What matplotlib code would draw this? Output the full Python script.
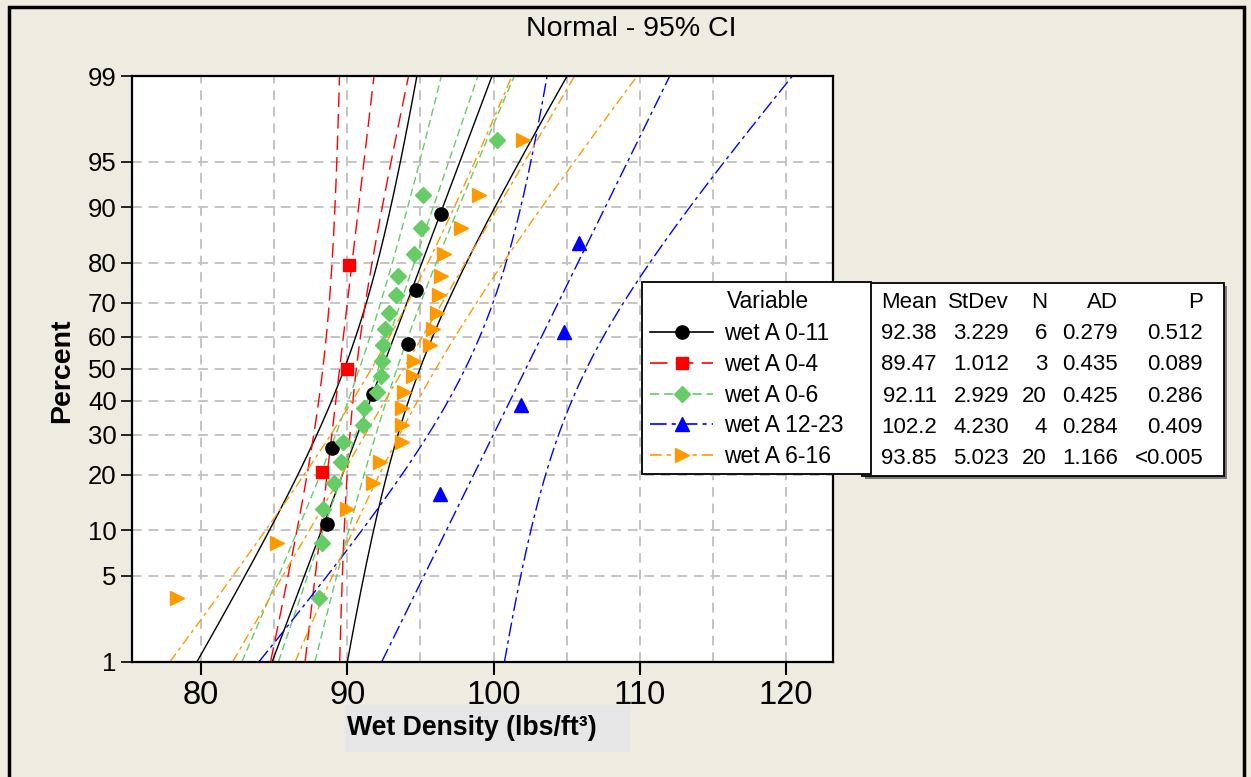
import numpy as np
import matplotlib.pyplot as plt
from matplotlib.lines import Line2D
from matplotlib.patches import Rectangle
from matplotlib.ticker import FixedLocator, NullLocator
from statistics import NormalDist

plt.rcParams['font.family'] = ['Liberation Sans', 'DejaVu Sans']

# Wet density samples (lbs/ft^3) per variable, sorted
labels = ['wet A 0-11', 'wet A 0-4', 'wet A 0-6', 'wet A 12-23', 'wet A 6-16']
wet_0_11 = [88.59, 88.93, 91.74, 94.13, 94.70, 96.39]
wet_0_4 = [88.30, 89.99, 90.12]
wet_0_6 = [88.07, 88.29, 88.36, 89.09, 89.55, 89.68, 91.10, 91.16, 92.05, 92.28,
           92.35, 92.46, 92.58, 92.87, 93.33, 93.49, 94.58, 95.04, 95.15, 100.2]
wet_12_23 = [96.34, 101.87, 104.78, 105.86]
wet_6_16 = [78.34, 85.17, 90.00, 91.76, 92.24, 93.72, 93.72, 93.76, 93.90, 94.50,
            94.58, 95.68, 95.86, 96.13, 96.25, 96.39, 96.58, 97.80, 98.98, 102.0]

# summary statistics table
means = [92.38, 89.47, 92.11, 102.2, 93.85]
stdevs = [3.229, 1.012, 2.929, 4.230, 5.023]
ns = [6, 3, 20, 4, 20]
ads = [0.279, 0.435, 0.425, 0.284, 1.166]
pvals = ['0.512', '0.089', '0.286', '0.409', '<0.005']

pct_ticks = [1, 5, 10, 20, 30, 40, 50, 60, 70, 80, 90, 95, 99]
x_ticks = [80, 90, 100, 110, 120]

samples = [wet_0_11, wet_0_4, wet_0_6, wet_12_23, wet_6_16]
colors = ['black', '#FF0000', '#66CC66', '#0000FF', '#FF9900']
styles = ['-', (0, (10.5, 5)), (0, (5.5, 3)), (0, (10, 3, 2.5, 3)), (0, (7, 3, 2.5, 3))]
markers = ['o', 's', 'D', '^', '>']
msizes = [9.5, 8.5, 8.5, 10, 10.5]

nd = NormalDist()
_ppf = np.vectorize(lambda v: nd.inv_cdf(v / 100.0), otypes=[float])
_cdf = np.vectorize(lambda v: nd.cdf(v) * 100.0, otypes=[float])


def pct_to_z(p):
    p = np.clip(np.asarray(p, dtype=float), 1e-9, 100 - 1e-9)
    return _ppf(p)


def z_to_pct(z):
    return _cdf(np.asarray(z, dtype=float))


W, H = 1251, 777
fx = lambda px: px / W
fy = lambda py: 1 - py / H
bg = '#EEEBE0'


def fig_rect(l, t, r, b, **kw):
    rect = Rectangle((fx(l), fy(b)), fx(r) - fx(l), fy(t) - fy(b),
                     transform=fig.transFigure, **kw)
    fig.patches.append(rect)
    return rect


fig = plt.figure(figsize=(W / 100, H / 100), dpi=100, facecolor=bg)
ax = fig.add_axes([fx(132), fy(661.5), fx(833) - fx(132), fy(76) - fy(661.5)])
ax.set_facecolor('white')
ax.set_yscale('function', functions=(pct_to_z, z_to_pct))

# fitted line and 95% confidence band for each variable
pgrid = np.linspace(1, 99, 400)
zgrid = pct_to_z(pgrid)
for vals, m, s, n, c, ls in zip(samples, means, stdevs, ns, colors, styles):
    fit = m + zgrid * s
    se = s * np.sqrt(1.0 / n + zgrid ** 2 / (2 * n - 1))
    for line in (fit - 1.96 * se, fit, fit + 1.96 * se):
        ax.plot(line, pgrid, color=c, ls=ls, lw=1.0, zorder=2)

# data points at median-rank plotting positions
for vals, c, mk, ms in zip(samples, colors, markers, msizes):
    n = len(vals)
    ranks = np.arange(1, n + 1)
    pos = (ranks - 0.3) / (n + 0.4) * 100
    ax.plot(vals, pos, ls='none', marker=mk, ms=ms, color=c, mec=c, zorder=3)

ax.set_xlim(75.28, 123.2)
ax.set_ylim(1, 99)
ax.yaxis.set_major_locator(FixedLocator(pct_ticks))
ax.yaxis.set_minor_locator(NullLocator())
ax.set_yticklabels([str(t) for t in pct_ticks])
ax.xaxis.set_major_locator(FixedLocator(x_ticks))
ax.xaxis.set_minor_locator(FixedLocator([85, 95, 105, 115]))

ax.grid(True, which='both', axis='x', color='#C4C4C4', ls=(0, (5, 3.5)), lw=1.4, zorder=0)
ax.grid(True, which='major', axis='y', color='#C4C4C4', ls=(0, (5, 3.5)), lw=1.4, zorder=0)
ax.set_axisbelow(True)
ax.tick_params(axis='x', which='major', length=9, width=1.5, labelsize=23.5, pad=4)
ax.tick_params(axis='x', which='minor', length=0)
ax.tick_params(axis='y', which='major', length=8, width=1.2, labelsize=18.5, pad=3)
for sp in ax.spines.values():
    sp.set_linewidth(1.6)

# title and axis labels
fig.text(fx(631), fy(29), 'Normal - 95% CI', ha='center', va='center', fontsize=20.5)
fig.text(fx(62), fy(371), 'Percent', rotation=90, ha='center', va='center',
         fontsize=20.5, fontweight='bold')
fig_rect(345, 705, 630, 752, facecolor='#E6E6E6', edgecolor='none', zorder=0)
fig.text(fx(347), fy(728), 'Wet Density (lbs/ft³)', ha='left', va='center',
         fontsize=19.2, fontweight='bold')

# outer frame
fig_rect(9, 7, 1244, 800, fill=False, edgecolor='black', lw=2.5, zorder=0)

# statistics table box with shadow
tl, tt, tr, tb = 862, 283, 1224, 476
fig_rect(tl + 3, tt + 3, tr + 3, tb + 3, facecolor='#7A7A7A', edgecolor='none', zorder=1)
fig_rect(tl, tt, tr, tb, facecolor='white', edgecolor='black', lw=1.3, zorder=1)

col_right = [937, 1009, 1047, 1118, 1203]
headers = ['Mean', 'StDev', 'N', 'AD', 'P']
row_y = [334, 365, 396, 427, 458]
tfs = 16
for x, h in zip(col_right, headers):
    fig.text(fx(x), fy(302), h, ha='right', va='center', fontsize=tfs)
for i, y in enumerate(row_y):
    cells = [f'{means[i]:.4g}', f'{stdevs[i]:.3f}', str(ns[i]), f'{ads[i]:.3f}', pvals[i]]
    for x, t in zip(col_right, cells):
        fig.text(fx(x), fy(y), t, ha='right', va='center', fontsize=tfs)

# legend box drawn over the table edge
fig_rect(642, 282, 871, 474, facecolor='white', edgecolor='black', lw=1.3, zorder=4)
fig.text(fx(768), fy(302), 'Variable', ha='center', va='center', fontsize=16.5, zorder=6)
handles = [Line2D([], [], color=c, ls=ls, lw=1.2, marker=mk, ms=ms, mec=c)
           for c, ls, mk, ms in zip(colors, styles, markers, msizes)]
leg = fig.legend(handles, labels, loc='upper left',
                 bbox_to_anchor=(fx(650), fy(322)), bbox_transform=fig.transFigure,
                 frameon=False, fontsize=16.5, handlelength=2.75,
                 handletextpad=0.5, borderpad=0, labelspacing=0.34,
                 borderaxespad=0)
leg.set_zorder(5)

fig.savefig('out.png', dpi=100, facecolor=bg)
